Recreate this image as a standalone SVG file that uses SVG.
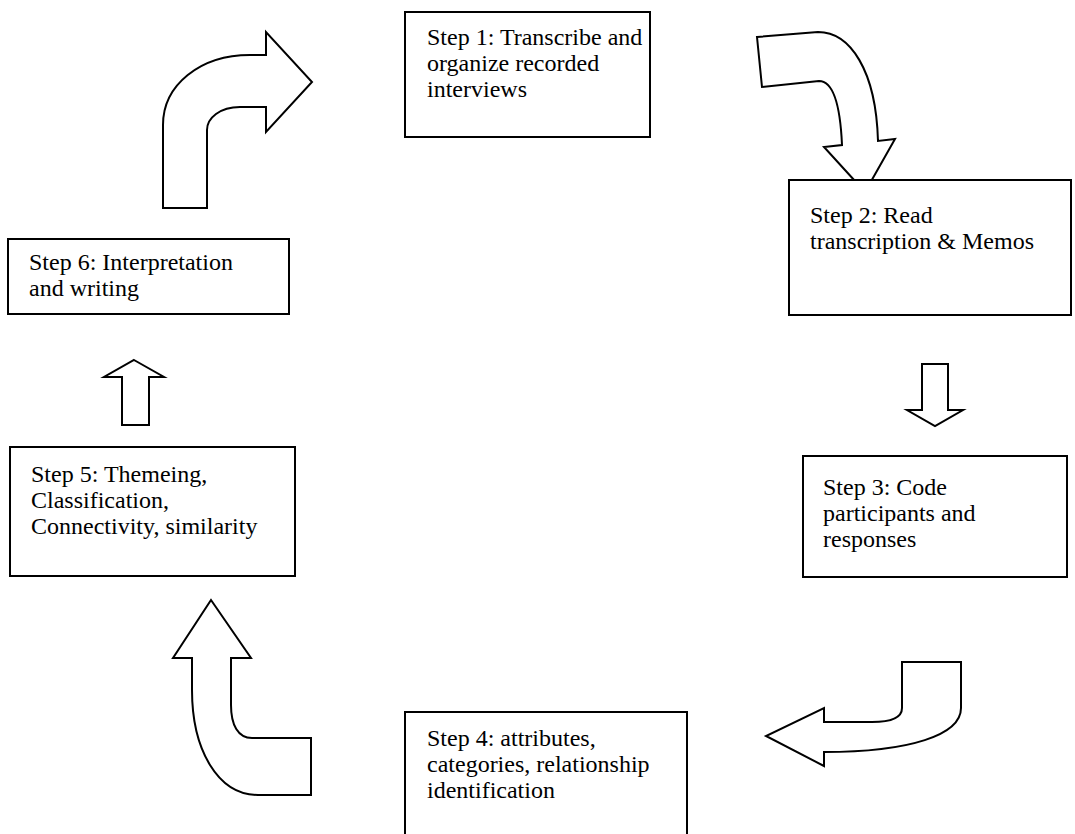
<svg xmlns="http://www.w3.org/2000/svg" width="1075" height="834" viewBox="0 0 1075 834">
<style>
.box{fill:#fff;stroke:#000;stroke-width:2}
.arr{fill:#fff;stroke:#000;stroke-width:2;stroke-linejoin:miter}
.t{font-family:"Liberation Serif","Times New Roman",serif;font-size:24px;fill:#000}
</style>
<rect width="1075" height="834" fill="#fff"/>
<g id="connectors">
<path class="arr" d="M163,208 L163,125 C163,85 200,55 250,55 L266,55 L266,32 L312,82 L266,132 L266,107 L240,107 C220,107 207,118 207,130 L207,208 Z"/>
<path class="arr" d="M757,37 L818,32 C850,32 876,70 878,141 L895,139 L865,192 L824,147 L842,145 C840,100 832,81 819,81 L762,87 Z"/>
<path class="arr" d="M922,364 L948,364 L948,410 L963,410 L935,426 L907,410 L922,410 Z"/>
<path class="arr" d="M902,662 L961,662 L961,708 C961,735 910,752 824,752 L824,766 L766,736 L824,708 L824,722 L872,722 C893,722 902,717 902,708 Z"/>
<path class="arr" d="M211,600 L251,658 L231,658 L231,705 C231,725 238,738 252,738 L311,738 L311,795 L258,795 C218,795 192,750 192,690 L192,658 L173,658 Z"/>
<path class="arr" d="M134,360 L164,377 L149,377 L149,425 L122,425 L122,377 L104,377 Z"/>
</g>
<g id="step1">
<rect class="box" x="405" y="12" width="245" height="125"/>
<text class="t" x="427" y="45">Step 1: Transcribe and</text>
<text class="t" x="427" y="71">organize recorded</text>
<text class="t" x="427" y="97">interviews</text>
</g>
<g id="step2">
<rect class="box" x="789" y="180" width="282" height="135"/>
<text class="t" x="810" y="223">Step 2: Read</text>
<text class="t" x="810" y="249">transcription &amp; Memos</text>
</g>
<g id="step3">
<rect class="box" x="803" y="456" width="264" height="121"/>
<text class="t" x="823" y="495">Step 3: Code</text>
<text class="t" x="823" y="521">participants and</text>
<text class="t" x="823" y="547">responses</text>
</g>
<g id="step4">
<rect class="box" x="405" y="712" width="282" height="140"/>
<text class="t" x="427" y="746">Step 4: attributes,</text>
<text class="t" x="427" y="772">categories, relationship</text>
<text class="t" x="427" y="798">identification</text>
</g>
<g id="step5">
<rect class="box" x="10" y="447" width="285" height="129"/>
<text class="t" x="31" y="482">Step 5: Themeing,</text>
<text class="t" x="31" y="508">Classification,</text>
<text class="t" x="31" y="534">Connectivity, similarity</text>
</g>
<g id="step6">
<rect class="box" x="8" y="239" width="281" height="75"/>
<text class="t" x="29" y="270">Step 6: Interpretation</text>
<text class="t" x="29" y="296">and writing</text>
</g>
</svg>
